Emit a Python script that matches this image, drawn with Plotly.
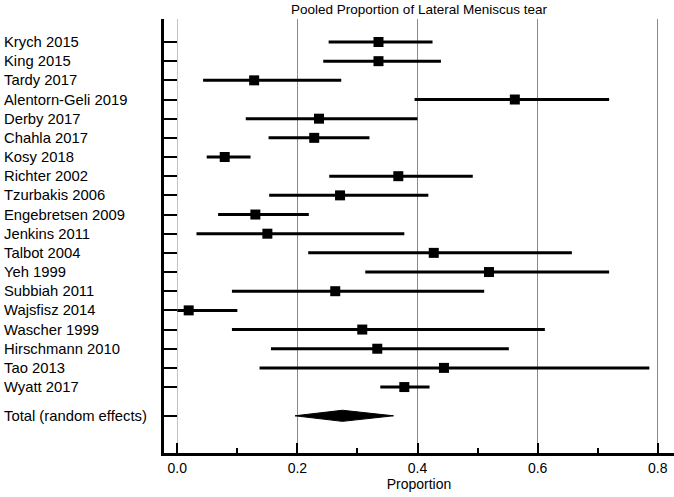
import plotly.graph_objects as go

studies = ["Krych 2015", "King 2015", "Tardy 2017", "Alentorn-Geli 2019", "Derby 2017",
           "Chahla 2017", "Kosy 2018", "Richter 2002", "Tzurbakis 2006", "Engebretsen 2009",
           "Jenkins 2011", "Talbot 2004", "Yeh 1999", "Subbiah 2011", "Wajsfisz 2014",
           "Wascher 1999", "Hirschmann 2010", "Tao 2013", "Wyatt 2017"]
est = [0.335, 0.335, 0.128, 0.562, 0.236, 0.228, 0.079, 0.368, 0.271, 0.130,
       0.150, 0.427, 0.519, 0.263, 0.019, 0.308, 0.333, 0.444, 0.378]
lo = [0.252, 0.243, 0.043, 0.395, 0.114, 0.152, 0.049, 0.253, 0.153, 0.068,
      0.032, 0.218, 0.313, 0.091, 0.000, 0.091, 0.156, 0.137, 0.338]
hi = [0.425, 0.439, 0.273, 0.719, 0.400, 0.320, 0.122, 0.492, 0.418, 0.219,
      0.378, 0.657, 0.719, 0.511, 0.100, 0.612, 0.552, 0.786, 0.420]

total_label = "Total (random effects)"
total_est = 0.275
total_lo = 0.196
total_hi = 0.360

xticks = [0.0, 0.2, 0.4, 0.6, 0.8]

FONT = "Liberation Sans, Arial, sans-serif"

ypos = list(range(1, len(studies) + 1))
total_y = len(studies) + 1.5
diamond_half = 0.29

fig = go.Figure()

fig.add_trace(go.Scatter(
    x=est, y=ypos, mode="markers",
    marker=dict(symbol="square", size=10, color="black", line=dict(width=0)),
    error_x=dict(type="data", symmetric=False,
                 array=[h - e for h, e in zip(hi, est)],
                 arrayminus=[e - l for e, l in zip(est, lo)],
                 color="black", thickness=3, width=0),
    showlegend=False, hoverinfo="skip"))

fig.add_trace(go.Scatter(
    x=[total_lo, total_est, total_hi, total_est, total_lo],
    y=[total_y, total_y - diamond_half, total_y, total_y + diamond_half, total_y],
    mode="lines", fill="toself", fillcolor="black",
    line=dict(color="black", width=1), showlegend=False, hoverinfo="skip"))

labels = studies + [total_label]
yvals = ypos + [total_y]
for lab, yv in zip(labels, yvals):
    fig.add_annotation(text=lab, x=-0.317, xref="paper", y=yv, yref="y",
                       xanchor="left", yanchor="middle", showarrow=False,
                       font=dict(family=FONT, size=14.8, color="black"))

fig.update_layout(
    width=674, height=497,
    margin=dict(l=164, r=0, t=19, b=44),
    paper_bgcolor="white", plot_bgcolor="white",
    font=dict(family=FONT, color="black"),
    title=dict(text="Pooled Proportion of Lateral Meniscus tear",
               x=0.5, xref="paper", xanchor="center",
               y=1 - 9 / 497, yref="container", yanchor="middle",
               font=dict(family=FONT, size=13.5, color="black")),
)

fig.update_xaxes(
    range=[-0.0221, 0.827], tickvals=xticks, tickformat=".1f",
    ticks="inside", ticklen=10, tickwidth=1.5, tickcolor="black",
    minor=dict(ticks="inside", ticklen=5, dtick=0.1, tick0=0, tickwidth=1.5,
               tickcolor="black", showgrid=False),
    showgrid=True, gridcolor="#8a8a8a", gridwidth=1,
    zeroline=True, zerolinecolor="#c4c4c4", zerolinewidth=1,
    showline=True, linecolor="black", linewidth=3,
    tickfont=dict(family=FONT, size=14, color="black"),
    title=dict(text="Proportion", font=dict(family=FONT, size=14, color="black"), standoff=4),
)

fig.update_yaxes(
    range=[22.44, -0.2], tickvals=yvals, ticktext=[""] * len(yvals),
    ticks="inside", ticklen=13, tickwidth=2, tickcolor="black",
    showgrid=False, zeroline=False,
    showline=True, linecolor="black", linewidth=3,
)

fig.write_html("out.html", config={"displayModeBar": False},
               post_script="document.body.style.margin='0';document.body.style.overflow='hidden';")
